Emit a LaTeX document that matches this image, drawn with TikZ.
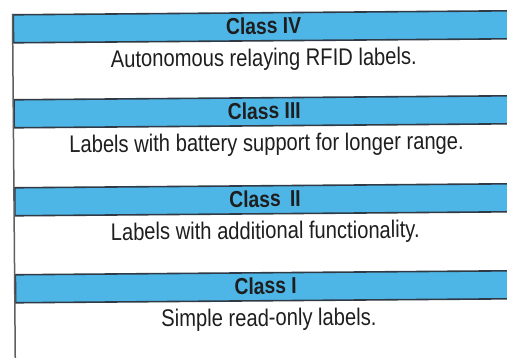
\documentclass[tikz,border=0pt]{standalone}
\usepackage{fontspec}
\setmainfont[FakeStretch=0.84]{Liberation Sans}
\definecolor{bandblue}{RGB}{78,182,230}
\definecolor{edge}{RGB}{48,58,70}
\definecolor{frame}{RGB}{95,95,95}
\definecolor{ink}{RGB}{30,30,30}
\begin{document}
\begin{tikzpicture}[x=1pt,y=1pt,
  band/.style={draw=edge, line width=1.6pt, fill=bandblue,
    minimum width=540pt, minimum height=28pt, inner sep=0pt, anchor=north west},
  classname/.style={font=\fontsize{23}{23}\selectfont\bfseries, text=ink,
    anchor=base, inner sep=0pt},
  desc/.style={font=\fontsize{24}{24}\selectfont, text=ink,
    anchor=base, inner sep=0pt}]
\useasboundingbox (0,0) rectangle (507,358);
\clip (0,0) rectangle (507,358);
\fill[white] (0,0) rectangle (507,358);
\begin{scope}[shift={(12.5,344)}, rotate=0.46, transform shape]
  % outer frame, left side
  \coordinate (ftop) at (0,0);
  \coordinate (fbot) at (0,-380);
  % the four class bands
  \node[band] (b4) at (0,0) {};
  \node[band] (b3) at (0,-85) {};
  \node[band] (b2) at (0,-173) {};
  \node[band] (b1) at (0,-260) {};
  \draw[frame, line width=1.5pt] (ftop) -- (fbot);
  % band titles
  \node[classname] (t4) at (251,-22) {Class IV};
  \node[classname] (t3) at (251,-107) {Class III};
  \node[classname] (t2) at (251,-195) {Class \,II};
  \node[classname] (t1) at (251,-282) {Class I};
  % descriptions
  \node[desc] (d4) at (251,-54) {Autonomous relaying RFID labels.};
  \node[desc] (d3) at (253,-139) {Labels with battery support for longer range.};
  \node[desc] (d2) at (251,-227) {Labels with additional functionality.};
  \node[desc] (d1) at (254,-314) {Simple read-only labels.};
\end{scope}
\end{tikzpicture}
\end{document}
